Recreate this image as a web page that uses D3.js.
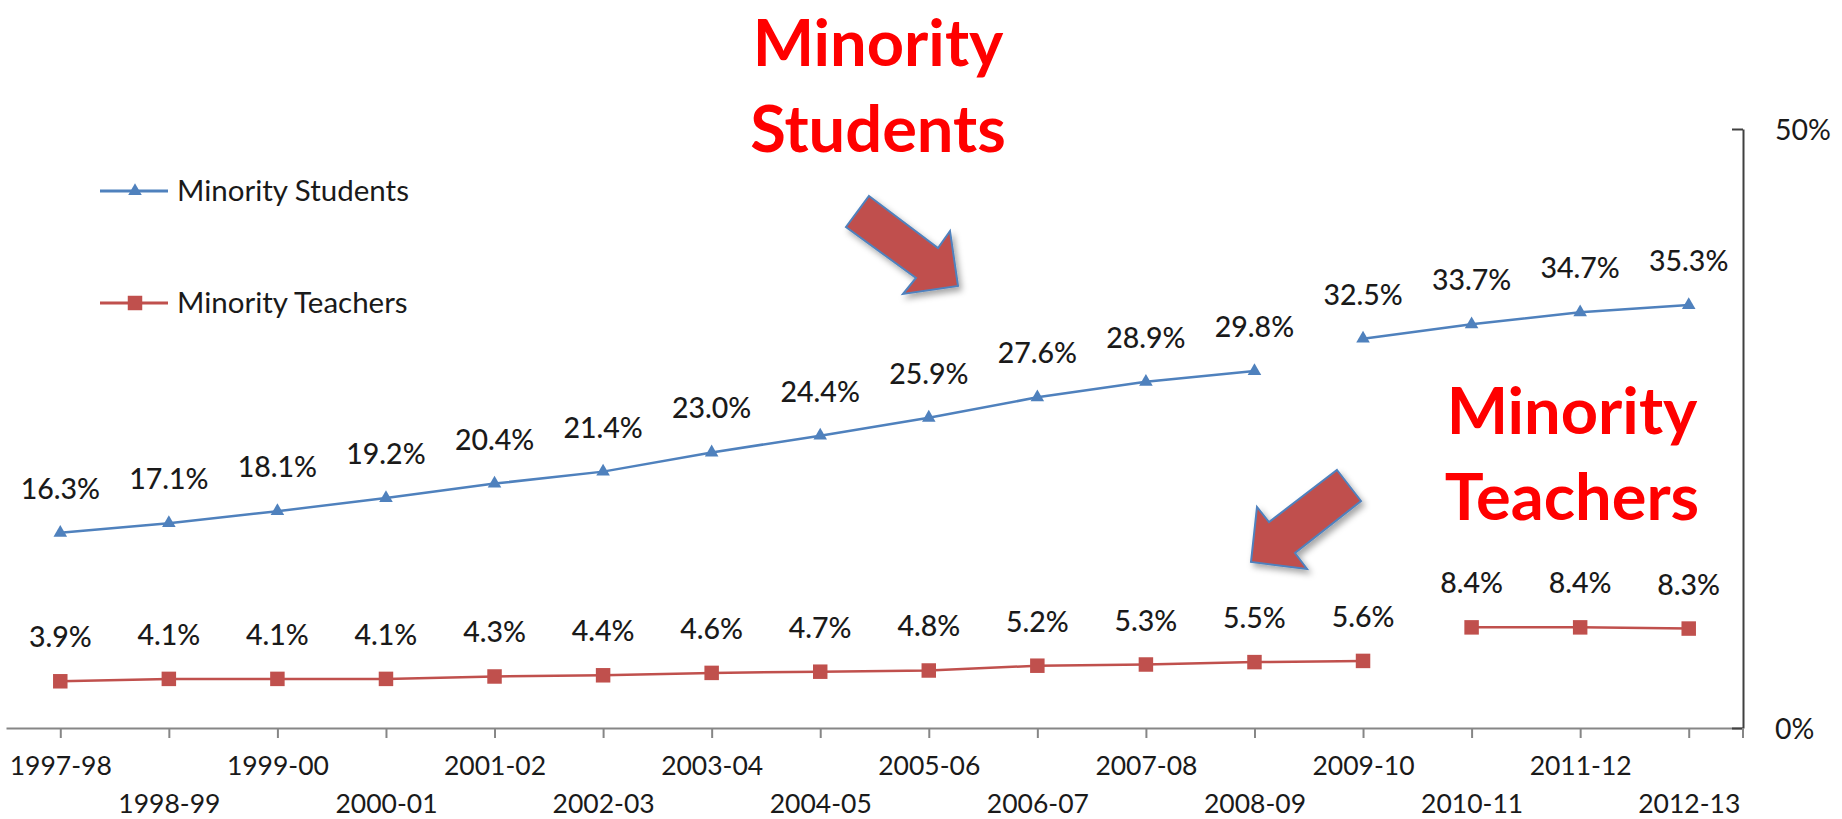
<!DOCTYPE html>
<html>
<head>
<meta charset="utf-8">
<script src="https://cdn.jsdelivr.net/npm/d3@7"></script>
<style>
  html, body { margin: 0; padding: 0; background: #fff; }
  svg { display: block; font-family: Lato, "Open Sans", sans-serif; }
</style>
</head>
<body>
<div id="chart"></div>
<script>
// Data
const categories = ["1997-98", "1998-99", "1999-00", "2000-01", "2001-02", "2002-03", "2003-04", "2004-05",
  "2005-06", "2006-07", "2007-08", "2008-09", "2009-10", "2010-11", "2011-12", "2012-13"];
const students = [16.3, 17.1, 18.1, 19.2, 20.4, 21.4, 23.0, 24.4, 25.9, 27.6, 28.9, 29.8, 32.5, 33.7, 34.7, 35.3];
const teachers = [3.9, 4.1, 4.1, 4.1, 4.3, 4.4, 4.6, 4.7, 4.8, 5.2, 5.3, 5.5, 5.6, 8.4, 8.4, 8.3];
// the line is not joined after these years
const studentBreak = "2008-09";
const teacherBreak = "2009-10";
const yTicks = [0, 50];

const width = 1842;
const height = 819;
const blue = "#4F81BD";
const red = "#C0504D";

const svg = d3.select("#chart")
  .append("svg")
  .attr("width", width)
  .attr("height", height);

// drop shadow for the arrows
const defs = svg.append("defs");
defs.append("filter")
  .attr("id", "shadow")
  .attr("x", "-30%").attr("y", "-30%")
  .attr("width", "160%").attr("height", "160%")
  .append("feDropShadow")
  .attr("dx", 3).attr("dy", 4)
  .attr("stdDeviation", 3)
  .attr("flood-color", "#000")
  .attr("flood-opacity", 0.35);

// Scales
const x = d3.scalePoint()
  .domain(categories)
  .range([6, 1743])
  .padding(0.5);

const y = d3.scaleLinear()
  .domain([0, 50])
  .range([728, 129]);

// Bottom axis
const xAxis = svg.append("g")
  .attr("transform", `translate(0,${y(0)})`)
  .call(d3.axisBottom(x).tickSize(10).tickSizeOuter(0));

xAxis.select(".domain").attr("stroke", "#868686").attr("stroke-width", 2);
xAxis.selectAll(".tick line").attr("stroke", "#868686").attr("stroke-width", 2);
xAxis.selectAll(".tick text")
  .attr("dy", null)
  .attr("y", (d, i) => i % 2 ? 85 : 47)
  .attr("fill", "#1a1a1a")
  .style("font-size", "26.5px")
  .style("font-family", "Lato, sans-serif");

// Right axis
const yAxis = svg.append("g")
  .attr("transform", `translate(${x.range()[1]},0)`)
  .call(d3.axisRight(y)
    .tickValues(yTicks)
    .tickSize(-11)
    .tickSizeOuter(0)
    .tickPadding(32)
    .tickFormat(d => d + "%"));

yAxis.select(".domain").attr("stroke", "#404040").attr("stroke-width", 2);
yAxis.selectAll(".tick line").attr("stroke", "#404040").attr("stroke-width", 2);
yAxis.selectAll(".tick text")
  .attr("dy", "0.36em")
  .attr("fill", "#1a1a1a")
  .style("font-size", "28.5px")
  .style("font-family", "Lato, sans-serif");

// small tick under the right end of the category axis
svg.append("line")
  .attr("x1", x.range()[1]).attr("x2", x.range()[1])
  .attr("y1", y(0)).attr("y2", y(0) + 10)
  .attr("stroke", "#868686").attr("stroke-width", 2);

// Series
function drawSeries(values, breakCat, color, marker) {
  const points = categories.map((c, i) => ({ cat: c, value: values[i] }));
  const cut = categories.indexOf(breakCat) + 1;
  const segments = [points.slice(0, cut), points.slice(cut)];

  const line = d3.line()
    .x(d => x(d.cat))
    .y(d => y(d.value));

  const g = svg.append("g");

  g.selectAll("path.seg")
    .data(segments)
    .enter()
    .append("path")
    .attr("class", "seg")
    .attr("d", line)
    .attr("fill", "none")
    .attr("stroke", color)
    .attr("stroke-width", 2.5);

  g.selectAll("path.marker")
    .data(points)
    .enter()
    .append("path")
    .attr("class", "marker")
    .attr("transform", d => `translate(${x(d.cat)},${y(d.value)})`)
    .attr("d", marker)
    .attr("fill", color);

  g.selectAll("text")
    .data(points)
    .enter()
    .append("text")
    .attr("x", d => x(d.cat))
    .attr("y", d => y(d.value) - 34)
    .attr("text-anchor", "middle")
    .attr("fill", "#1a1a1a")
    .style("font-size", "28.5px")
    .style("font-weight", 500)
    .text(d => d.value.toFixed(1) + "%");
}

const triangle = d3.symbol().type(d3.symbolTriangle).size(80)();
const square = d3.symbol().type(d3.symbolSquare).size(210)();

drawSeries(students, studentBreak, blue, triangle);
drawSeries(teachers, teacherBreak, red, square);

// Legend
const legendItems = [
  { name: "Minority Students", color: blue, marker: triangle, y: 191 },
  { name: "Minority Teachers", color: red, marker: square, y: 303 }
];

const legend = svg.append("g")
  .selectAll("g")
  .data(legendItems)
  .enter()
  .append("g")
  .attr("transform", d => `translate(100,${d.y})`);

legend.append("line")
  .attr("x1", 0).attr("x2", 68)
  .attr("stroke", d => d.color)
  .attr("stroke-width", 3);

legend.append("path")
  .attr("transform", "translate(35,0)")
  .attr("d", d => d.marker)
  .attr("fill", d => d.color);

legend.append("text")
  .attr("x", 77)
  .attr("y", 10)
  .attr("fill", "#1a1a1a")
  .style("font-size", "29.5px")
  .text(d => d.name);

// Annotations: big red captions and arrows
const captions = [
  { lines: ["Minority", "Students"], x: 878, y: 66 },
  { lines: ["Minority", "Teachers"], x: 1572, y: 434 }
];

captions.forEach(c => {
  svg.append("text")
    .attr("text-anchor", "middle")
    .attr("fill", "#FF0000")
    .style("font-size", "65px")
    .style("font-weight", "bold")
    .selectAll("tspan")
    .data(c.lines)
    .enter()
    .append("tspan")
    .attr("x", c.x)
    .attr("y", (d, i) => c.y + i * 86)
    .text(d => d);
});

const arrows = [
  [[869, 196], [938, 248], [950, 231], [958, 286], [903, 294], [916, 278], [846, 227]],
  [[1337, 470], [1361, 501], [1295, 553], [1307, 569], [1251, 562], [1257, 507], [1269, 522]]
];

svg.append("g")
  .selectAll("polygon")
  .data(arrows)
  .enter()
  .append("polygon")
  .attr("points", d => d.map(p => p.join(",")).join(" "))
  .attr("fill", red)
  .attr("stroke", blue)
  .attr("stroke-width", 2)
  .attr("stroke-linejoin", "miter")
  .attr("filter", "url(#shadow)");
</script>
</body>
</html>
